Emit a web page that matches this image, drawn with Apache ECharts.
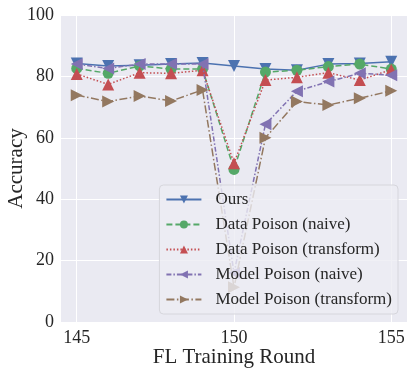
<!DOCTYPE html>
<html>
<head>
<meta charset="utf-8">
<script src="https://cdn.jsdelivr.net/npm/echarts@6/dist/echarts.min.js"></script>
<style>
html, body { margin: 0; padding: 0; background: #fff; }
#chart { width: 415px; height: 374px; }
</style>
</head>
<body>
<div id="chart"></div>
<script>
var rounds = [145, 146, 147, 148, 149, 150, 151, 152, 153, 154, 155];
var xTicks = [145, 150, 155];
var seriesNames = ['Ours', 'Data Poison (naive)', 'Data Poison (transform)', 'Model Poison (naive)', 'Model Poison (transform)'];
var ours          = [84.2, 83.4, 83.6, 84.0, 84.4, 83.4, 82.4, 82.0, 84.0, 84.2, 84.8];
var dataNaive     = [82.6, 81.0, 83.4, 82.4, 82.4, 49.7, 81.4, 82.0, 83.2, 84.0, 82.4];
var dataTransform = [80.8, 77.4, 81.2, 81.0, 82.0, 51.7, 78.8, 79.7, 81.2, 78.8, 82.2];
var modelNaive    = [84.0, 82.6, 84.0, 84.0, 84.0, 16.0, 64.4, 75.2, 78.3, 81.0, 80.4];
var modelTransform= [73.9, 71.8, 73.6, 72.0, 75.6, 11.3, 60.0, 71.8, 70.7, 72.9, 75.3];

var colors = ['#4C72B0', '#55A868', '#C44E52', '#8172B2', '#937860'];
var FONT = 'Liberation Serif';

function pairs(vals) {
    var out = [];
    for (var i = 0; i < rounds.length; i++) {
        out.push([rounds[i], vals[i]]);
    }
    return out;
}

var chartDom = document.getElementById('chart');
var myChart = echarts.init(chartDom, null, { renderer: 'canvas' });

function makeSeries(idx, vals, symbol, rot, size, dash, width) {
    return {
        name: seriesNames[idx],
        type: 'line',
        data: pairs(vals),
        symbol: symbol,
        symbolRotate: rot,
        symbolSize: size,
        showAllSymbol: true,
        color: colors[idx],
        itemStyle: { color: colors[idx], opacity: 1 },
        lineStyle: { color: colors[idx], width: width, type: dash },
        z: 2 + idx,
        animation: false
    };
}

var option = {
    backgroundColor: '#ffffff',
    animation: false,
    grid: {
        left: 61,
        right: 8,
        top: 15,
        bottom: 52,
        outerBoundsMode: 'none',
        containLabel: false,
        show: true,
        backgroundColor: '#EAEAF2',
        borderWidth: 0
    },
    legend: {
        orient: 'vertical',
        right: 17,
        bottom: 60,
        z: 20,
        padding: [6, 6, 6, 6],
        itemWidth: 35,
        itemHeight: 10,
        itemGap: 8,
        backgroundColor: 'rgba(236,236,243,0.8)',
        borderColor: '#d6d6dc',
        borderWidth: 1,
        borderRadius: 4,
        textStyle: { fontFamily: FONT, fontSize: 17, color: '#262626', padding: [0, 0, 0, 9] },
        data: seriesNames
    },
    xAxis: {
        type: 'value',
        min: 144.5,
        max: 155.5,
        name: 'FL Training Round',
        nameLocation: 'middle',
        nameMoveOverlap: false,
        nameGap: 25,
        nameTextStyle: { fontFamily: FONT, fontSize: 21, color: '#262626' },
        axisLine: { show: false },
        axisTick: { show: false, customValues: xTicks },
        axisLabel: { customValues: xTicks, fontFamily: FONT, fontSize: 18, color: '#262626', margin: 7 },
        splitLine: { show: true, lineStyle: { color: '#ffffff', width: 1 } }
    },
    yAxis: {
        type: 'value',
        min: 0,
        max: 100,
        interval: 20,
        name: 'Accuracy',
        nameLocation: 'middle',
        nameMoveOverlap: false,
        nameGap: 34,
        nameTextStyle: { fontFamily: FONT, fontSize: 21, color: '#262626' },
        axisLine: { show: false },
        axisTick: { show: false },
        axisLabel: { fontFamily: FONT, fontSize: 18, color: '#262626', margin: 7 },
        splitLine: { show: true, lineStyle: { color: '#ffffff', width: 1 } }
    },
    series: [
        makeSeries(0, ours, 'triangle', 180, 12, 'solid', 1.5),
        makeSeries(1, dataNaive, 'circle', 0, 11, [6, 3], 1.5),
        makeSeries(2, dataTransform, 'triangle', 0, 12, [1.5, 2], 1.5),
        makeSeries(3, modelNaive, 'triangle', 90, 12, [5, 2, 1.5, 2], 1.5),
        makeSeries(4, modelTransform, 'triangle', -90, 12, [8, 2.5, 1.5, 2.5], 1.5)
    ]
};

myChart.setOption(option);
</script>
</body>
</html>
